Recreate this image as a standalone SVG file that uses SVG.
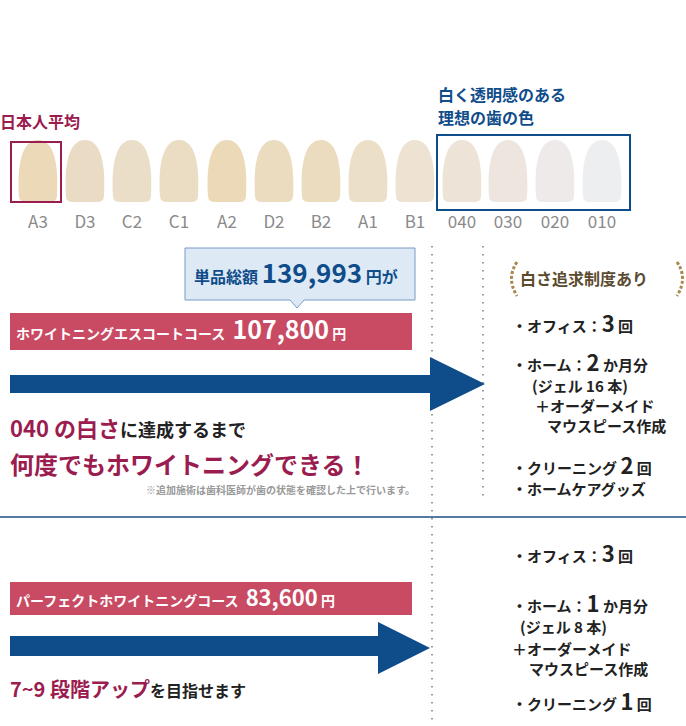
<svg xmlns="http://www.w3.org/2000/svg" width="686" height="726" viewBox="0 0 686 726">
<defs>
<style>
text{font-family:"Noto Sans CJK JP","Noto Sans",sans-serif;font-weight:bold}
.lab{fill:#8a8a8a;font-weight:normal;font-size:17px;text-anchor:middle}
.mg{fill:#9b1c4f}
.bl{fill:#0f4c8a}
.k{fill:#222}
.w{fill:#fff}
.dot{stroke:#999;stroke-width:2;stroke-dasharray:1.5 6.5}
</style>
<path id="tooth" d="M-19,0 C-21,-32 -16,-56 0,-56 C16,-56 21,-32 19,0 Q19,6 12,6 L-12,6 Q-19,6 -19,0Z"/>
</defs>
<rect width="686" height="726" fill="#fff"/>
<g id="teeth">
<g fill="#ecd9b8"><use href="#tooth" x="38" y="196"/><use href="#tooth" x="85" y="196" fill="#eadcc4"/><use href="#tooth" x="132" y="196" fill="#ebdec8"/><use href="#tooth" x="179" y="196" fill="#ebdcc4"/><use href="#tooth" x="227" y="196" fill="#ecd9b8"/><use href="#tooth" x="274" y="196" fill="#ecdcbf"/><use href="#tooth" x="321" y="196" fill="#ecdcbf"/><use href="#tooth" x="368" y="196" fill="#ecdfc8"/><use href="#tooth" x="415" y="196" fill="#eee3d2"/><use href="#tooth" x="462" y="196" fill="#ede3d6"/><use href="#tooth" x="508" y="196" fill="#eee6de"/><use href="#tooth" x="555" y="196" fill="#eeeaea"/><use href="#tooth" x="602" y="196" fill="#eceef0"/></g>
<text class="lab" x="38" y="228">A3</text><text class="lab" x="85" y="228">D3</text><text class="lab" x="132" y="228">C2</text><text class="lab" x="179" y="228">C1</text><text class="lab" x="227" y="228">A2</text><text class="lab" x="274" y="228">D2</text><text class="lab" x="321" y="228">B2</text><text class="lab" x="368" y="228">A1</text><text class="lab" x="415" y="228">B1</text><text class="lab" x="462" y="228">040</text><text class="lab" x="508" y="228">030</text><text class="lab" x="555" y="228">020</text><text class="lab" x="602" y="228">010</text>
</g>
<g id="avg"><rect x="11" y="142" width="50" height="60" fill="none" stroke="#9b1c4f" stroke-width="2"/><text class="mg" x="0" y="128" font-size="16">日本人平均</text></g>
<g id="ideal"><rect x="437" y="135" width="193" height="75" fill="none" stroke="#0f4c8a" stroke-width="2"/><text class="bl" x="438" y="101" font-size="16">白く透明感のある</text><text class="bl" x="438" y="124" font-size="16">理想の歯の色</text></g>
<g id="connectors">
<line class="dot" x1="432" y1="246" x2="432" y2="726"/>
<line class="dot" x1="483" y1="246" x2="483" y2="500"/>
<line x1="0" y1="517" x2="686" y2="517" stroke="#1e4f84" stroke-width="1.5"/>
<path d="M10,375 H430 V357 L485,384 L430,411 V393 H10Z" fill="#0f4c8a"/>
<path d="M10,636 H378 V622 L430,648 L378,674 V656 H10Z" fill="#0f4c8a"/>
</g>
<g id="callout"><path d="M185,248 H415 V300 H304 L297,308 L290,300 H185Z" fill="#dde9f5" stroke="#7a9cc8" stroke-width="1"/><text class="bl" x="194" y="283" font-size="16">単品総額 <tspan font-size="26">139,993</tspan> 円が</text></g>
<g id="course1"><rect x="10" y="313" width="402" height="37" fill="#c94a63"/><text class="w" x="16" y="339" font-size="14">ホワイトニングエスコートコース <tspan font-size="25" dx="4">107,800</tspan> <tspan font-size="14">円</tspan></text></g>
<g id="msg1"><text class="mg" x="10" y="437" font-size="22">040 の白さ<tspan class="k" font-size="18">に達成するまで</tspan></text><text class="mg" x="10" y="474" font-size="24">何度でもホワイトニングできる！</text><text x="415" y="494" font-size="10" fill="#999" font-weight="normal" text-anchor="end">※追加施術は歯科医師が歯の状態を確認した上で行います。</text></g>
<g id="badge"><text x="520" y="285" font-size="16" fill="#5a4a30">白さ追求制度あり</text><path d="M517,262 Q506,278 517,296" fill="none" stroke="#a8884e" stroke-width="3" stroke-dasharray="3 2"/><path d="M677,262 Q688,278 677,296" fill="none" stroke="#a8884e" stroke-width="3" stroke-dasharray="3 2"/></g>
<g id="list1">
<text class="k" x="512" y="332" font-size="15">・オフィス：<tspan font-size="22">3</tspan> 回</text>
<text class="k" x="512" y="371" font-size="15">・ホーム：<tspan font-size="22">2</tspan> か月分</text>
<text class="k" x="532" y="392" font-size="15">(ジェル 16 本)</text>
<text class="k" x="535" y="412" font-size="15">＋オーダーメイド</text>
<text class="k" x="547" y="432" font-size="15">マウスピース作成</text>
<text class="k" x="512" y="474" font-size="15">・クリーニング <tspan font-size="22">2</tspan> 回</text>
<text class="k" x="512" y="495" font-size="15">・ホームケアグッズ</text>
</g>
<g id="course2"><rect x="10" y="582" width="402" height="33" fill="#c94a63"/><text class="w" x="16" y="606" font-size="14">パーフェクトホワイトニングコース <tspan font-size="22" dx="4">83,600</tspan> <tspan font-size="14">円</tspan></text></g>
<g id="msg2"><text class="mg" x="10" y="697" font-size="20">7~9 段階アップ<tspan class="k" font-size="16">を目指せます</tspan></text></g>
<g id="list2">
<text class="k" x="512" y="562" font-size="15">・オフィス：<tspan font-size="22">3</tspan> 回</text>
<text class="k" x="512" y="612" font-size="15">・ホーム：<tspan font-size="22">1</tspan> か月分</text>
<text class="k" x="520" y="633" font-size="15">(ジェル 8 本)</text>
<text class="k" x="512" y="655" font-size="15">＋オーダーメイド</text>
<text class="k" x="529" y="675" font-size="15">マウスピース作成</text>
<text class="k" x="512" y="710" font-size="15">・クリーニング <tspan font-size="22">1</tspan> 回</text>
</g>
</svg>
